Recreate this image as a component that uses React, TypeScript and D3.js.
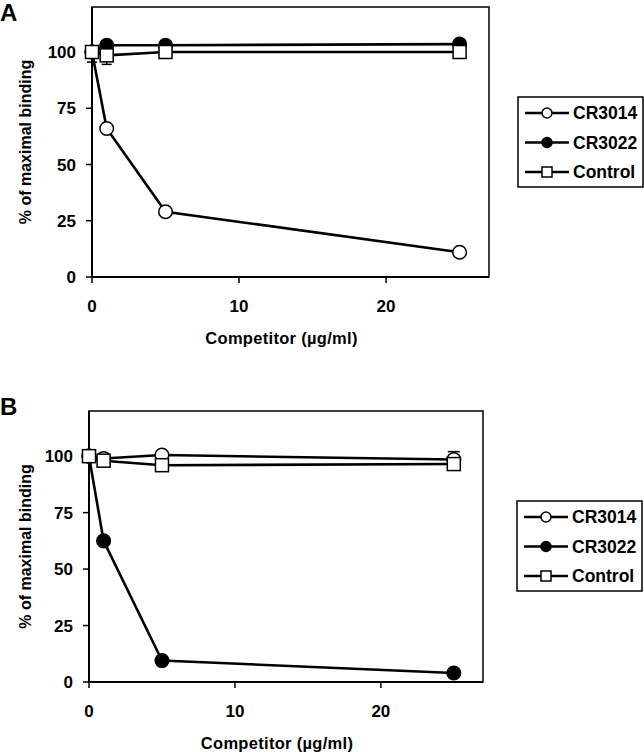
import { scaleLinear, line } from "d3";

// shared x values (competitor concentration, µg/ml)
const doses = [0, 1, 5, 25];
const xTicks = [0, 10, 20];
const yTicks = [0, 25, 50, 75, 100];
const seriesNames = ["CR3014", "CR3022", "Control"];

// panel A
const aCR3014 = [100, 66, 29, 11];
const aCR3022 = [100, 103, 103, 103.5];
const aControl = [100, 98.5, 100, 100];
const aControlErrDown = [4.5, 4, 0, 0];

// panel B
const bCR3014 = [100, 99, 100.5, 98.5];
const bCR3022 = [100, 62.5, 9.5, 4];
const bControl = [100, 98, 96, 96.5];
const bCR3014ErrUp = [0, 0, 0, 3.5];
const bCR3022ErrUp = [0, 1, 0, 0];

const FONT = "'Liberation Sans', Arial, sans-serif";

type Series = {
    name: string;
    values: number[];
    marker: "open" | "filled" | "square";
    errUp?: number[];
    errDown?: number[];
};

type PanelProps = {
    label: string;
    labelY: number;
    left: number;
    right: number;
    top: number;
    bottom: number;
    legendX: number;
    legendY: number;
    series: Series[];
};

function Marker({ kind, x, y, size }: { kind: string; x: number; y: number; size: number }) {
    if (kind === "square") {
        return (
            <rect
                x={x - size}
                y={y - size}
                width={size * 2}
                height={size * 2}
                fill="#fff"
                stroke="#000"
                strokeWidth={1.5}
            />
        );
    }
    return (
        <circle
            cx={x}
            cy={y}
            r={size}
            fill={kind === "filled" ? "#000" : "#fff"}
            stroke="#000"
            strokeWidth={1.5}
        />
    );
}

function Panel({ label, labelY, left, right, top, bottom, legendX, legendY, series }: PanelProps) {
    const x = scaleLinear().domain([0, 27]).range([left, right]);
    const y = scaleLinear().domain([0, 120]).range([bottom, top]);
    const path = line<number>()
        .x((_, i) => x(doses[i]))
        .y((d) => y(d));
    const order = ["open", "filled", "square"];
    const sorted = [...series].sort((a, b) => order.indexOf(a.marker) - order.indexOf(b.marker));

    return (
        <g fontFamily={FONT} fontWeight="bold">
            <text x={0} y={labelY} fontSize={24}>
                {label}
            </text>

            {/* frame */}
            <rect
                x={left}
                y={top}
                width={right - left}
                height={bottom - top}
                fill="none"
                stroke="#000"
                strokeWidth={1.5}
            />
            <line x1={left} x2={right} y1={bottom} y2={bottom} stroke="#000" strokeWidth={2} />
            <line x1={left} x2={left} y1={top} y2={bottom} stroke="#000" strokeWidth={2} />

            {/* y axis */}
            {yTicks.map((t) => (
                <g key={t}>
                    <line x1={left - 6} x2={left} y1={y(t)} y2={y(t)} stroke="#000" strokeWidth={1.5} />
                    <text x={left - 16} y={y(t)} dy="0.36em" textAnchor="end" fontSize={17}>
                        {t}
                    </text>
                </g>
            ))}
            <text
                transform={`translate(31,${(top + bottom) / 2}) rotate(-90)`}
                textAnchor="middle"
                fontSize={16}
            >
                % of maximal binding
            </text>

            {/* x axis */}
            {xTicks.map((t) => (
                <g key={t}>
                    <line x1={x(t)} x2={x(t)} y1={bottom} y2={bottom + 6} stroke="#000" strokeWidth={1.5} />
                    <text x={x(t)} y={bottom + 35} textAnchor="middle" fontSize={17}>
                        {t}
                    </text>
                </g>
            ))}
            <text
                x={(left + right) / 2 - 9}
                y={bottom + 67}
                textAnchor="middle"
                fontSize={16.5}
                letterSpacing={0.3}
            >
                Competitor (µg/ml)
            </text>

            {/* lines */}
            {sorted.map((s) => (
                <path key={s.name} d={path(s.values) ?? ""} fill="none" stroke="#000" strokeWidth={2.6} />
            ))}

            {/* error bars */}
            {sorted.map((s) =>
                s.values.map((v, i) => {
                    const bars = [];
                    const up = s.errUp?.[i] ?? 0;
                    const down = s.errDown?.[i] ?? 0;
                    const cx = x(doses[i]);
                    if (up > 0) {
                        bars.push(
                            <g key={`${s.name}-u-${i}`} stroke="#000" strokeWidth={1.5}>
                                <line x1={cx} x2={cx} y1={y(v)} y2={y(v + up)} />
                                <line x1={cx - 6} x2={cx + 6} y1={y(v + up)} y2={y(v + up)} />
                            </g>,
                        );
                    }
                    if (down > 0) {
                        bars.push(
                            <g key={`${s.name}-d-${i}`} stroke="#000" strokeWidth={1.5}>
                                <line x1={cx} x2={cx} y1={y(v)} y2={y(v - down)} />
                                <line x1={cx - 5} x2={cx + 5} y1={y(v - down)} y2={y(v - down)} />
                            </g>,
                        );
                    }
                    return bars;
                }),
            )}

            {/* markers */}
            {sorted.map((s) =>
                s.values.map((v, i) => (
                    <Marker
                        key={`${s.name}-${i}`}
                        kind={s.marker}
                        x={x(doses[i])}
                        y={y(v)}
                        size={s.marker === "square" ? 6.5 : 6.8}
                    />
                )),
            )}

            {/* legend */}
            <rect x={legendX} y={legendY} width={125} height={90} fill="#fff" stroke="#000" strokeWidth={1.5} />
            {seriesNames.map((name, i) => {
                const s = series.find((d) => d.name === name)!;
                const ry = legendY + 16 + i * 29.5;
                return (
                    <g key={name}>
                        <line x1={legendX + 7} x2={legendX + 51} y1={ry} y2={ry} stroke="#000" strokeWidth={2.6} />
                        <Marker kind={s.marker} x={legendX + 29} y={ry} size={5} />
                        <text x={legendX + 55} y={ry} dy="0.36em" fontSize={17.5}>
                            {name}
                        </text>
                    </g>
                );
            })}
        </g>
    );
}

export default function App() {
    return (
        <div style={{ position: "absolute", left: 0, top: 0, background: "#fff" }}>
            <svg width={644} height={752} style={{ display: "block" }}>
                <rect width={644} height={752} fill="#fff" />
                <Panel
                    label="A"
                    labelY={21}
                    left={92}
                    right={489}
                    top={7}
                    bottom={277}
                    legendX={518}
                    legendY={97}
                    series={[
                        { name: "CR3014", values: aCR3014, marker: "open" },
                        { name: "CR3022", values: aCR3022, marker: "filled" },
                        { name: "Control", values: aControl, marker: "square", errDown: aControlErrDown },
                    ]}
                />
                <Panel
                    label="B"
                    labelY={415}
                    left={89}
                    right={483}
                    top={411}
                    bottom={682}
                    legendX={517}
                    legendY={501}
                    series={[
                        { name: "CR3014", values: bCR3014, marker: "open", errUp: bCR3014ErrUp },
                        { name: "CR3022", values: bCR3022, marker: "filled", errUp: bCR3022ErrUp },
                        { name: "Control", values: bControl, marker: "square" },
                    ]}
                />
            </svg>
        </div>
    );
}
